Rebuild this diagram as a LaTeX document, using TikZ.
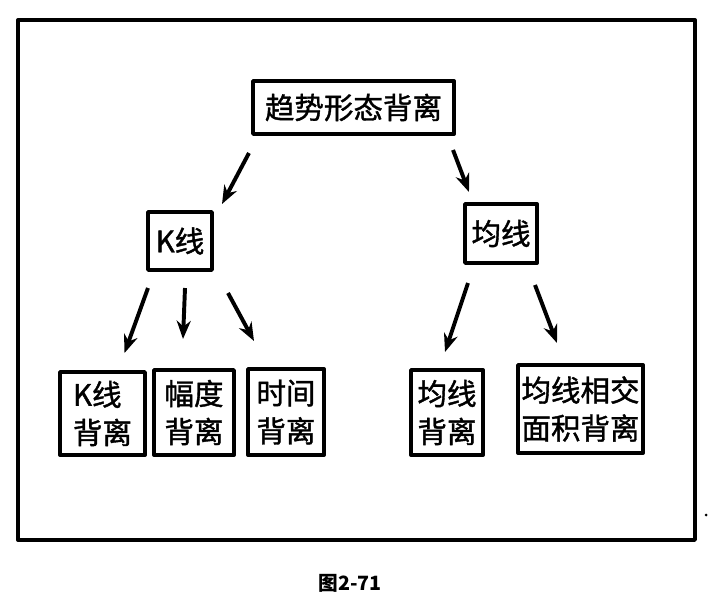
\documentclass[tikz,border=0pt]{standalone}
\usepackage{fontspec}
\newfontfamily\cjk{Noto Sans CJK SC}[FakeBold=1.3]
\newfontfamily\cjkcap{Noto Sans CJK SC}
\usetikzlibrary{calc,arrows.meta}
\begin{document}
\begin{tikzpicture}[x=0.025cm,y=-0.025cm,line join=round,>={Stealth[length=13pt,width=10pt]},
		box/.style={draw,line width=2.7pt,inner sep=0pt,outer sep=0pt,align=center,font=\cjk\fontsize{21}{27}\selectfont},
		arr/.style={->,line width=2.8pt}]
	\useasboundingbox (0,0) rectangle (728,598);
	\draw[line width=2.4pt] (18,20) rectangle (695,540);
	\node[box,minimum width=5.025cm,minimum height=1.325cm] (top) at (353.5,107.5) {趋势形态背离};
	\node[box,minimum width=1.6cm,minimum height=1.45cm] (kl) at (180,241) {K线};
	\node[box,minimum width=1.8cm,minimum height=1.475cm] (jx) at (501,233.5) {均线};
	\node[box,align=left,minimum width=2.125cm,minimum height=2.075cm] (klbl) at (102.5,413.5) {K线\\背离};
	\node[box,minimum width=2cm,minimum height=2.125cm] (fdbl) at (194,412.5) {幅度\\背离};
	\node[box,minimum width=1.9cm,minimum height=2.15cm] (sjbl) at (286,412) {时间\\背离};
	\node[box,minimum width=1.8cm,minimum height=2.125cm] (jxbl) at (447,412.5) {均线\\背离};
	\node[box,minimum width=3.125cm,minimum height=2.2cm] (mjbl) at (580.5,409) {均线相交\\面积背离};
	\draw[arr] ($(top.south west)+(-4,19)$) -- ($(kl.north east)+(10,-8)$);
	\draw[arr] ($(top.south east)+(-1,16)$) -- ($(jx.north west)+(4,-12)$);
	\draw[arr] ($(kl.south west)+(0,18)$) -- ($(klbl.north)+(22,-19)$);
	\draw[arr] ($(kl.south)+(5,18)$) -- ($(fdbl.north)+(-11,-31)$);
	\draw[arr] ($(kl.south east)+(16,23)$) -- ($(sjbl.north west)+(6,-28)$);
	\draw[arr] ($(jx.south west)+(3,20)$) -- ($(jxbl.north)+(-2,-18)$);
	\draw[arr] ($(jx.south east)+(-2,22)$) -- ($(mjbl.north west)+(39,-22)$);
	\node[font=\cjkcap\bfseries\fontsize{14}{16}\selectfont] (cap) at (350,583) {图2-71};
	\fill (706,515) circle (1.5);
\end{tikzpicture}
\end{document}
